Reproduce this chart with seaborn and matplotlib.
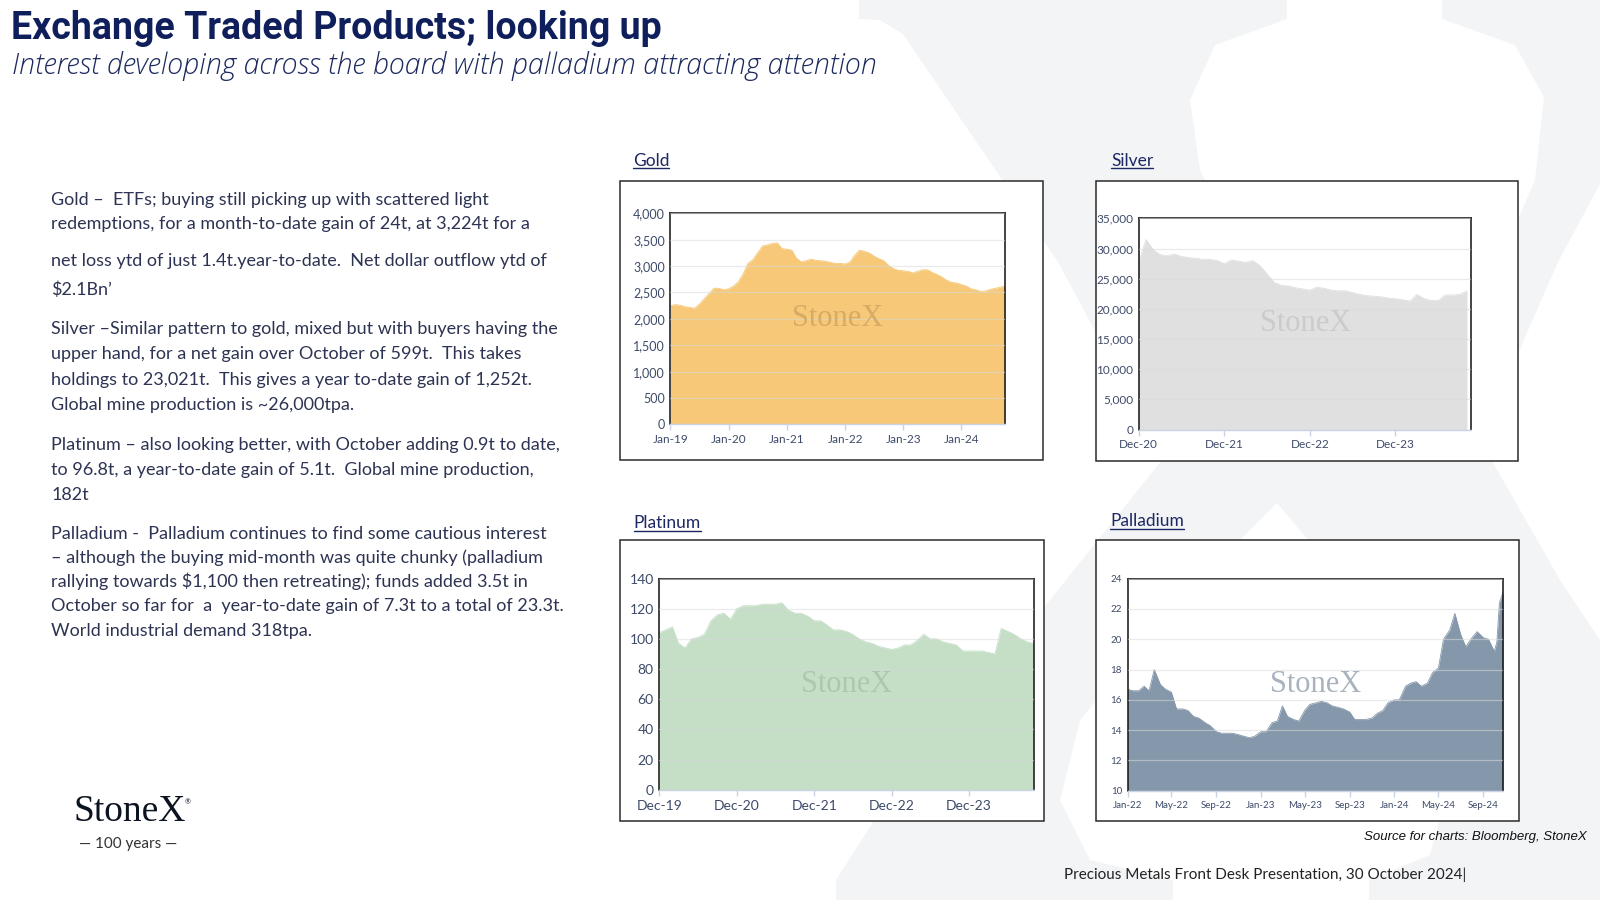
import numpy as np
import pandas as pd
import matplotlib
matplotlib.use('Agg')
import matplotlib.pyplot as plt
import matplotlib.dates as mdates
import matplotlib.ticker as mticker
from matplotlib.patches import Polygon, Rectangle
from matplotlib.lines import Line2D
import seaborn as sns

sns.set_theme(style='white')
plt.rcParams['font.family'] = ['Lato', 'DejaVu Sans']

# ---------------------------------------------------------------
# ETF holdings (tonnes, monthly / semi-monthly)
# ---------------------------------------------------------------
gold_start = '2019-01-01'
gold_tonnes = [2250, 2270, 2260, 2230, 2220, 2200, 2280, 2380, 2480, 2580, 2580, 2550,
               2570, 2620, 2700, 2850, 3050, 3120, 3250, 3380, 3400, 3430, 3440, 3330,
               3320, 3300, 3150, 3080, 3100, 3130, 3110, 3100, 3090, 3070, 3050, 3050,
               3040, 3080, 3200, 3300, 3280, 3250, 3190, 3140, 3100, 3010, 2950, 2920,
               2910, 2900, 2870, 2900, 2930, 2930, 2880, 2840, 2790, 2730, 2690, 2680,
               2650, 2620, 2570, 2550, 2520, 2530, 2560, 2580, 2600, 2620]

silver_start = '2020-12-01'
silver_tonnes = [27800,
                 31500, 29800, 29000, 28800, 29100, 28700, 28500, 28400, 28200, 28200, 28000, 27500,
                 28100, 27900, 27700, 28000, 27200, 25800, 24400, 23900, 23800, 23500, 23300, 23100,
                 23600, 23400, 23100, 23000, 23000, 22700, 22400, 22200, 22100, 22000, 21800, 21700,
                 21500, 21300, 22400, 21700, 21400, 21400, 22300, 22300, 22400, 23000]

platinum_start = '2019-12-01'
platinum_tonnes = [104,
                   106, 108, 97, 94, 100, 101, 103, 112, 116, 117, 113, 120,
                   122, 122, 122, 123, 123, 123, 124, 119, 117, 117, 115, 112,
                   112, 109, 106, 106, 105, 103, 100, 98, 97, 95, 94, 93,
                   94, 96, 96, 99, 103, 100, 100, 98, 97, 96, 92, 92,
                   92, 92, 91, 90, 107, 105, 103, 100, 98, 97]

# semi-monthly from Jan-22, then the late-October spike
palladium_start = '2022-01-01'
palladium_late_dates = ['2024-10-08', '2024-10-15', '2024-10-25']
palladium_tonnes = [16.7, 16.6, 16.6, 16.9, 16.6, 18.0, 17.0, 16.7, 16.5, 15.4, 15.4, 15.3,
                    14.9, 14.8, 14.5, 14.3, 13.9, 13.8, 13.8, 13.8, 13.7, 13.6, 13.5, 13.6,
                    13.9, 13.9, 14.5, 14.6, 15.6, 14.9, 14.7, 14.6, 15.3, 15.7, 15.8, 15.9,
                    15.8, 15.6, 15.5, 15.4, 15.2, 14.7, 14.7, 14.7, 14.8, 15.1, 15.3, 15.8,
                    16.0, 16.0, 16.9, 17.1, 17.2, 16.9, 17.1, 17.8, 18.1, 20.0, 20.6, 21.7,
                    20.3, 19.5, 20.1, 20.5, 20.1, 20.0, 19.2,
                    19.8, 22.4, 23.1]

title = 'Exchange Traded Products; looking up'
subtitle = 'Interest developing across the board with palladium attracting attention'

body_lines = [
    'Gold \u2013  ETFs; buying still picking up with scattered light',
    'redemptions, for a month-to-date gain of 24t, at 3,224t for a',
    'net loss ytd of just 1.4t.year-to-date.  Net dollar outflow ytd of',
    '$2.1Bn\u2019',
    'Silver \u2013Similar pattern to gold, mixed but with buyers having the',
    'upper hand, for a net gain over October of 599t.  This takes',
    'holdings to 23,021t.  This gives a year to-date gain of 1,252t.',
    'Global mine production is ~26,000tpa.',
    'Platinum \u2013 also looking better, with October adding 0.9t to date,',
    'to 96.8t, a year-to-date gain of 5.1t.  Global mine production,',
    '182t',
    'Palladium -  Palladium continues to find some cautious interest',
    '\u2013 although the buying mid-month was quite chunky (palladium',
    'rallying towards $1,100 then retreating); funds added 3.5t in',
    'October so far for  a  year-to-date gain of 7.3t to a total of 23.3t.',
    'World industrial demand 318tpa.',
]
body_y = [196, 220, 256, 284, 322, 347, 372, 397, 436, 461, 485, 523, 547, 570, 594, 618]

# ---------------------------------------------------------------
W, H = 1568, 882          # layout measured on the slide


def fx(x):
    return x / W


def fy(y):
    return 1 - y / H


NAVY = '#0f1f5c'
TICK = '#3d4a68'

fig = plt.figure(figsize=(16, 9), dpi=100)
fig.patch.set_facecolor('white')

# faint StoneX "X" in the background
x_outline = [(859, 0), (1287, 0), (1287, 19), (1215, 45), (1190, 100), (1200, 170), (1243, 262),
             (1300, 340), (1370, 410), (1430, 340), (1500, 262), (1535, 180), (1544, 97),
             (1515, 45), (1442, 19), (1442, 0), (1600, 0), (1600, 184), (1558, 262),
             (1480, 440), (1560, 580), (1600, 640), (1600, 900), (1369, 900), (1369, 880),
             (1430, 855), (1445, 800), (1420, 700), (1350, 590), (1277, 503), (1180, 600),
             (1080, 720), (1060, 800), (1090, 860), (1173, 880), (1173, 900), (836, 900),
             (836, 880), (900, 780), (1050, 600), (1170, 450), (1100, 340), (1058, 262),
             (903, 34), (880, 20), (859, 19)]
fig.patches.append(Polygon([(x / 1600, 1 - y / 900) for x, y in x_outline], closed=True,
                           transform=fig.transFigure, facecolor='#f3f4f6', edgecolor='none',
                           zorder=-5))

fig.text(fx(11), fy(28), title, fontsize=27, fontweight='bold', color=NAVY,
         family=['Roboto', 'DejaVu Sans'], ha='left', va='center')
fig.text(fx(12), fy(65), subtitle, fontsize=20.6, style='italic', fontweight='light',
         color='#1c2a5e', family=['Open Sans', 'DejaVu Sans'], ha='left', va='center')

for line, y in zip(body_lines, body_y):
    fig.text(fx(50), fy(y), line, fontsize=13, color='#2d3352', ha='left', va='center')

# logo + footers
fig.text(fx(127), fy(796), 'StoneX', fontsize=27, color='#0b1220',
         family=['Liberation Serif', 'DejaVu Serif'], ha='center', va='center')
fig.text(fx(184), fy(786), '\u00ae', fontsize=5, color='#0b1220', ha='center', va='center')
fig.text(fx(126), fy(827), '\u2014 100 years \u2014', fontsize=11, color='#333333',
         ha='center', va='center')
fig.text(fx(1555), fy(820), 'Source for charts: Bloomberg, StoneX', fontsize=9.5, style='italic',
         color='#111111', family=['Liberation Sans', 'DejaVu Sans'], ha='right', va='center')
fig.text(fx(1043), fy(857), 'Precious Metals Front Desk Presentation, 30 October 2024|',
         fontsize=11, color='#222222', ha='left', va='center')


def panel(frame, axbox, name, name_xy, dates, values, fill, wm_color, ylim, ystep,
          locator, xlim, ysize, xsize):
    l, t, r, b = frame
    fig.patches.append(Rectangle((fx(l), fy(b)), fx(r) - fx(l), fy(t) - fy(b),
                                 transform=fig.transFigure, facecolor='white',
                                 edgecolor='#2b2b2b', lw=1.1, zorder=-1))
    l, t, r, b = axbox
    ax = fig.add_axes([fx(l), fy(b), fx(r) - fx(l), fy(t) - fy(b)])
    ax.set_facecolor('white')
    sns.lineplot(x=dates, y=values, ax=ax, color=fill, lw=0.6)
    ax.fill_between(dates, values, ylim[0], color=fill, lw=0, zorder=2)
    ax.set_ylim(*ylim)
    ax.set_xlim(pd.Timestamp(xlim[0]), pd.Timestamp(xlim[1]))
    ax.yaxis.set_major_locator(mticker.MultipleLocator(ystep))
    ax.yaxis.set_major_formatter(mticker.FuncFormatter(lambda v, p: f'{v:,.0f}'))
    ax.xaxis.set_major_locator(locator)
    ax.xaxis.set_major_formatter(mdates.DateFormatter('%b-%y'))
    ax.grid(axis='y', color='#d9d9d9', lw=0.9, zorder=1)
    ax.grid(axis='x', visible=False)
    ax.set_axisbelow(False)
    for g in ax.get_ygridlines():
        g.set_zorder(2.5)
        g.set_alpha(0.55)
    for s in ['left', 'top', 'right']:
        ax.spines[s].set_color('#111111')
        ax.spines[s].set_linewidth(1.1)
    ax.spines['bottom'].set_color('#c9d3e3')
    ax.spines['bottom'].set_linewidth(1.0)
    ax.tick_params(axis='y', length=0, labelsize=ysize, labelcolor=TICK, pad=4)
    ax.tick_params(axis='x', length=4, direction='out', color='#c9d3e3', width=1,
                   labelsize=xsize, labelcolor=TICK, pad=3, bottom=True)
    ax.set_xlabel('')
    ax.set_ylabel('')
    ax.text(0.5, 0.5, 'StoneX', transform=ax.transAxes, ha='center', va='center',
            fontsize=22, color=wm_color, family=['Liberation Serif', 'DejaVu Serif'], zorder=3)
    t = fig.text(fx(name_xy[0]), fy(name_xy[1]), name, fontsize=12.5, color='#1c2763',
                 ha='left', va='center')
    return ax, t


gold_dates = pd.date_range(gold_start, periods=len(gold_tonnes), freq='MS')
silver_dates = pd.date_range(silver_start, periods=len(silver_tonnes), freq='MS')
platinum_dates = pd.date_range(platinum_start, periods=len(platinum_tonnes), freq='MS')
n_semi = len(palladium_tonnes) - len(palladium_late_dates)
palladium_dates = pd.date_range(palladium_start, periods=n_semi, freq='SMS').append(
    pd.DatetimeIndex(palladium_late_dates))

titles = []
_, t1 = panel((608, 177, 1022, 451), (657, 209, 985, 416), 'Gold', (620, 158),
              gold_dates, gold_tonnes, '#f6c878', '#d6ab66', (0, 4000), 500,
              mdates.MonthLocator(bymonth=[1]), (gold_dates[0], gold_dates[-1]), 9, 8.5)
titles.append(t1)
_, t2 = panel((1074, 177, 1488, 452), (1116, 214, 1442, 421), 'Silver', (1089, 158),
              silver_dates, silver_tonnes, '#e0e0e0', '#cbcbcb', (0, 35000), 5000,
              mdates.MonthLocator(bymonth=[12]), (silver_dates[0], '2024-10-20'), 8.5, 8.5)
titles.append(t2)
_, t3 = panel((608, 529, 1023, 805), (646, 567, 1013, 774), 'Platinum', (621, 513),
              platinum_dates, platinum_tonnes, '#c5dfc7', '#acc7ae', (0, 140), 20,
              mdates.MonthLocator(bymonth=[12]), (platinum_dates[0], platinum_dates[-1]), 10, 10)
titles.append(t3)
_, t4 = panel((1074, 529, 1489, 805), (1105, 567, 1473, 775), 'Palladium', (1088, 511),
              palladium_dates, palladium_tonnes, '#8597aa', '#a9b3bf', (10, 24), 2,
              mdates.MonthLocator(bymonth=[1, 5, 9]), (palladium_dates[0], palladium_dates[-1]),
              7, 7)
titles.append(t4)

# underline the panel names
fig.canvas.draw()
inv = fig.transFigure.inverted()
for t in titles:
    bb = t.get_window_extent().transformed(inv)
    fig.lines.append(Line2D([bb.x0, bb.x1], [bb.y0 + 0.001, bb.y0 + 0.001], transform=fig.transFigure,
                            color='#1c2763', lw=1.0))

fig.savefig('out.png', dpi=100, facecolor='white')
